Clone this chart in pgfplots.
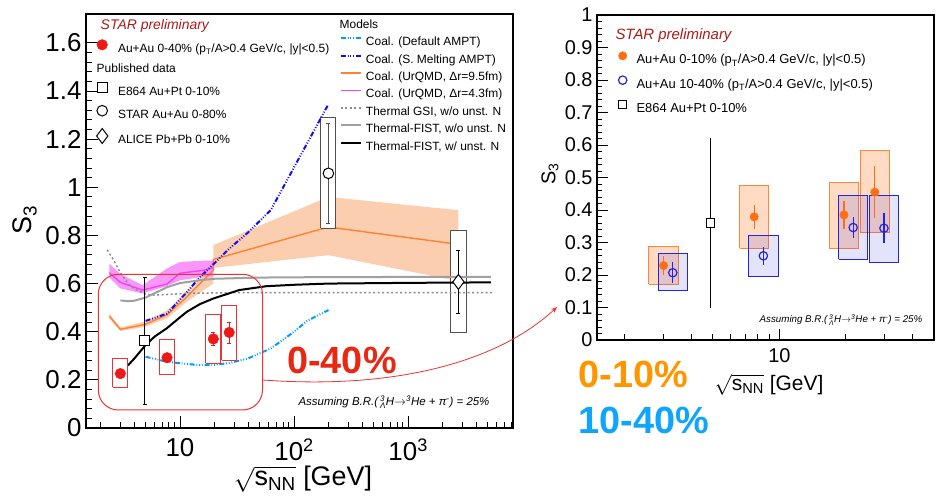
\documentclass[border=0pt]{standalone}
\usepackage{amsmath}
\usepackage{fontspec}
\setmainfont{Liberation Sans}
\usepackage{pgfplots}
\pgfplotsset{compat=1.18}
\usetikzlibrary{arrows.meta}

\definecolor{starred}{RGB}{175,25,25}
\definecolor{datared}{RGB}{238,24,24}
\definecolor{boxred}{RGB}{236,50,50}
\definecolor{bigred}{RGB}{232,40,18}
\definecolor{amptlight}{RGB}{0,155,255}
\definecolor{amptdark}{RGB}{15,15,235}
\definecolor{urqorange}{RGB}{255,130,50}
\definecolor{urqmag}{RGB}{240,70,240}
\definecolor{orband}{RGB}{252,206,176}
\definecolor{magband}{RGB}{249,150,249}
\definecolor{gsigray}{RGB}{140,140,140}
\definecolor{fistgray}{RGB}{160,160,160}
\definecolor{pubgray}{RGB}{80,80,80}
\definecolor{dorange}{RGB}{255,110,20}
\definecolor{boxorange}{RGB}{255,135,60}
\definecolor{dblue}{RGB}{35,35,225}
\definecolor{bigorange}{RGB}{255,150,0}
\definecolor{bigblue}{RGB}{15,165,250}

\tikzset{
  amptdash/.style={line width=2bp, dash pattern=on 5bp off 1.8bp on 0.9bp off 1.8bp on 0.9bp off 1.8bp on 0.9bp off 1.8bp},
  gsidot/.style={line width=1.5bp, dash pattern=on 2bp off 2.5bp},
}
\newcommand{\fs}[1]{\fontsize{#1}{#1}\selectfont}
\newcommand{\sysbox}[5][]{\addplot[forget plot,line join=miter,#1] coordinates {(#2,#4) (#3,#4) (#3,#5) (#2,#5) (#2,#4)};}

\begin{document}
\begin{tikzpicture}
\path[use as bounding box] (0,0) rectangle (942bp,496bp);

% ---------------- LEFT PANEL ----------------
\begin{axis}[
  at={(86bp,68bp)}, anchor=south west, scale only axis,
  width=427bp, height=414bp,
  xmode=log, xmin=1.5, xmax=8300, ymin=0, ymax=1.72,
  axis line style={line width=1.2bp},
  tick pos=left, tick align=inside,
  xtick={10,100,1000}, xticklabels={10,10\textsuperscript{2},10\textsuperscript{3}},
  minor xtick={2,3,4,5,6,7,8,9,20,30,40,50,60,70,80,90,200,300,400,500,600,700,800,900,2000,3000,4000,5000,6000,7000,8000},
  ytick={0,0.2,0.4,0.6,0.8,1,1.2,1.4,1.6},
  minor y tick num=4,
  major tick length=12bp, minor tick length=6bp,
  tick style={black, line width=0.9bp},
  /pgf/number format/assume math mode=true,
  tick label style={font=\fs{26}},
  xticklabel style={yshift=-7bp},
  yticklabel style={xshift=-1bp},
  legend style={at={(axis description cs:0.5948,0.9872)}, anchor=north west, draw=none, fill=none,
    inner sep=0pt, outer sep=0pt, row sep=5.4bp, column sep=4bp, font=\fs{12},
    nodes={inner sep=0pt, text height=9bp, text depth=3bp}},
  legend cell align=left,
  legend image code/.code={\draw[#1] (0bp,4.3bp) -- (20bp,4.3bp);},
]
\addlegendimage{empty legend}\addlegendentry{\hspace*{-26.3bp}Models}
\addlegendimage{amptlight, amptdash}\addlegendentry{Coal. (Default AMPT)}
\addlegendimage{amptdark, amptdash}\addlegendentry{Coal. (S. Melting AMPT)}
\addlegendimage{urqorange, line width=1.6bp}\addlegendentry{Coal. (UrQMD, Δr=9.5fm)}
\addlegendimage{urqmag, line width=1.6bp}\addlegendentry{Coal. (UrQMD, Δr=4.3fm)}
\addlegendimage{gsigray, gsidot}\addlegendentry{Thermal GSI, w/o unst. N}
\addlegendimage{fistgray, line width=2bp}\addlegendentry{Thermal-FIST, w/o unst. N}
\addlegendimage{black, line width=2bp}\addlegendentry{Thermal-FIST, w/ unst. N}

% bands
\addplot[forget plot, fill=orband, draw=none] coordinates {(19.6,0.76) (200,0.96) (2760,0.905) (2760,0.61) (200,0.718) (19.6,0.665)};
\addplot[forget plot, fill=orband, draw=none] coordinates {(2.4,0.475) (3,0.418) (4.9,0.442) (7.7,0.488) (11.5,0.568) (19.6,0.675) (19.6,0.60) (11.5,0.525) (7.7,0.455) (4.9,0.42) (3,0.403) (2.4,0.455)};
\addplot[forget plot, fill=magband, draw=none] coordinates {(2.4,0.683) (3,0.64) (4.7,0.593) (7.7,0.663) (10,0.69) (16,0.695) (19.6,0.695) (19.6,0.628) (16,0.628) (10,0.614) (7.7,0.59) (4.7,0.559) (3,0.58) (2.4,0.625)};

% UrQMD lines
\addplot[forget plot, urqorange, line width=1.4bp] coordinates {(2.4,0.465) (3,0.41) (4.9,0.43) (7.7,0.47) (11.5,0.545) (19.6,0.655) (19.6,0.70) (200,0.835) (2760,0.763)};
\addplot[forget plot, urqmag, line width=1.4bp] coordinates {(2.4,0.645) (3,0.605) (4.7,0.573) (7.7,0.598) (10,0.643) (16,0.655) (19.6,0.665)};

% published-data systematic boxes
\sysbox[draw=pubgray, fill=white, line width=1bp]{171.7}{233}{0.83}{1.29}
\sysbox[draw=pubgray, fill=white, line width=1bp]{2369}{3215}{0.395}{0.819}

% AMPT lines
\addplot[forget plot, amptlight, amptdash] coordinates {(5,0.296) (7.7,0.275) (11.5,0.266) (14.5,0.262) (19.6,0.262) (27,0.27) (39,0.288) (62.4,0.33) (100,0.40) (130,0.445) (200,0.49)};
\addplot[forget plot, amptdark, amptdash] coordinates {(5,0.445) (7.7,0.475) (11.5,0.565) (14.5,0.62) (19.6,0.68) (27,0.745) (39,0.81) (62.4,0.905) (200,1.345)};

% thermal lines
\addplot[forget plot, gsigray, gsidot] coordinates {(2.3,0.74) (2.6,0.70) (3,0.645) (3.5,0.60) (4,0.578) (5,0.556) (6,0.552) (8,0.555) (12,0.56) (30,0.562) (5600,0.562)};
\addplot[forget plot, fistgray, line width=2bp] coordinates {(3,0.53) (3.5,0.527) (4,0.529) (5,0.542) (6,0.56) (7.7,0.585) (10,0.602) (15,0.614) (20,0.62) (50,0.625) (200,0.627) (5300,0.628)};
\addplot[forget plot, black, line width=2bp] coordinates {(3.5,0.26) (4,0.29) (5,0.345) (6,0.38) (7.7,0.415) (10,0.46) (11.5,0.483) (15,0.515) (19.6,0.538) (33,0.573) (57,0.589) (100,0.595) (200,0.60) (1000,0.603) (5300,0.605)};

% STAR 0-40% systematic boxes
\sysbox[draw=boxred, line width=1bp]{2.575}{3.495}{0.17}{0.287}
\sysbox[draw=boxred, line width=1bp]{6.61}{8.97}{0.221}{0.368}
\sysbox[draw=boxred, line width=1bp]{16.82}{22.83}{0.27}{0.472}
\sysbox[draw=boxred, line width=1bp]{23.18}{31.46}{0.282}{0.51}

% published points
\addplot[forget plot, only marks, mark=square*, mark size=5bp, mark options={fill=white, draw=black, line width=1bp},
  error bars/.cd, y dir=both, y explicit, error bar style={line width=1bp, black}, error mark options={rotate=90, mark size=2bp, black}]
  coordinates {(4.9,0.362) +- (0,0.264)};
\addplot[forget plot, only marks, mark=*, mark size=5.3bp, mark options={fill=white, draw=black, line width=1bp},
  error bars/.cd, y dir=both, y explicit, error bar style={line width=1bp, pubgray}, error mark options={rotate=90, mark size=2bp, pubgray}]
  coordinates {(200,1.058) +- (0,0.207)};
\addplot[forget plot, only marks, mark=diamond*, mark size=7.5bp, mark options={fill=white, draw=black, line width=1bp},
  error bars/.cd, y dir=both, y explicit, error bar style={line width=1bp, black}, error mark options={rotate=90, mark size=2bp, black}]
  coordinates {(2760,0.607) +- (0,0.13)};

% STAR 0-40% points
\addplot[forget plot, only marks, mark=*, mark size=5.3bp, color=datared,
  error bars/.cd, y dir=both, y explicit, error bar style={line width=1bp, datared}, error mark options={rotate=90, mark size=2bp, datared}]
  coordinates {(3.0,0.226) +- (0,0.012) (7.7,0.292) +- (0,0.012) (19.6,0.37) +- (0,0.028) (27,0.397) +- (0,0.044)};
\end{axis}

% marker legend of the left panel
\begin{axis}[
  at={(86bp,68bp)}, anchor=south west, scale only axis,
  width=427bp, height=414bp,
  xmode=log, xmin=1.5, xmax=8300, ymin=0, ymax=1.72, hide axis,
  legend style={at={(axis description cs:0.0248,0.9867)}, anchor=north west, draw=none, fill=none,
    inner sep=0pt, outer sep=0pt, row sep=7bp, column sep=10.2bp, font=\fs{12},
    nodes={inner sep=0pt, text height=10bp, text depth=3bp}},
  legend cell align=left,
  legend image code/.code={\draw[#1] plot coordinates {(0bp,4.3bp)};},
]
\addlegendimage{empty legend}\addlegendentry{\hspace*{-17.3bp}{\fs{14}\itshape\color{starred}STAR preliminary}}
\addlegendimage{only marks, mark=*, mark size=5.3bp, datared}\addlegendentry{Au+Au 0-40\% (p\textsubscript{T}/A>0.4 GeV/c, |y|<0.5)}
\addlegendimage{empty legend}\addlegendentry{\hspace*{-21.3bp}Published data}
\addlegendimage{only marks, mark=square*, mark size=5bp, mark options={fill=white, draw=black, line width=1bp}}\addlegendentry{E864 Au+Pt 0-10\%}
\addlegendimage{only marks, mark=*, mark size=5.3bp, mark options={fill=white, draw=black, line width=1bp}}\addlegendentry{STAR Au+Au 0-80\%}
\addlegendimage{only marks, mark=diamond*, mark size=7.5bp, mark options={fill=white, draw=black, line width=1bp}}\addlegendentry{ALICE Pb+Pb 0-10\%}
\end{axis}

% ---------------- RIGHT PANEL ----------------
\begin{axis}[
  at={(597bp,156bp)}, anchor=south west, scale only axis,
  width=337bp, height=325bp,
  xmode=log, xmin=1.5, xmax=50, ymin=0, ymax=1,
  axis line style={line width=1.2bp},
  tick pos=left, tick align=inside,
  xtick={10}, xticklabels={10},
  minor xtick={2,3,4,5,6,7,8,9,20,30,40},
  ytick={0,0.1,0.2,0.3,0.4,0.5,0.6,0.7,0.8,0.9,1},
  minor y tick num=4,
  major tick length=11bp, minor tick length=5.5bp,
  tick style={black, line width=0.9bp},
  /pgf/number format/assume math mode=true,
  tick label style={font=\fs{20}},
  xticklabel style={yshift=-5bp},
  yticklabel style={xshift=-1bp},
  legend style={at={(axis description cs:0.0638,0.955)}, anchor=north west, draw=none, fill=none,
    inner sep=0pt, outer sep=0pt, row sep=9bp, column sep=9.6bp, font=\fs{13},
    nodes={inner sep=0pt, text height=10bp, text depth=3bp}},
  legend cell align=left,
  legend image code/.code={\draw[#1] plot coordinates {(0bp,4.65bp)};},
]
\addlegendimage{empty legend}\addlegendentry{\hspace*{-21bp}{\fs{15}\itshape\color{starred}STAR preliminary}}
\addlegendimage{only marks, mark=*, mark size=4.2bp, dorange}\addlegendentry{Au+Au 0-10\% (p\textsubscript{T}/A>0.4 GeV/c, |y|<0.5)}
\addlegendimage{only marks, mark=o, mark size=4.2bp, dblue, mark options={line width=1.2bp}}\addlegendentry{Au+Au 10-40\% (p\textsubscript{T}/A>0.4 GeV/c, |y|<0.5)}
\addlegendimage{only marks, mark=square*, mark size=4.2bp, mark options={fill=white, draw=black, line width=1bp}}\addlegendentry{E864 Au+Pt 0-10\%}

% 0-10% boxes
\sysbox[draw=boxorange, fill=dorange, fill opacity=0.25, line width=1bp]{2.575}{3.495}{0.171}{0.287}
\sysbox[draw=boxorange, fill=dorange, fill opacity=0.25, line width=1bp]{6.61}{8.97}{0.282}{0.476}
\sysbox[draw=boxorange, fill=dorange, fill opacity=0.25, line width=1bp]{16.82}{22.83}{0.282}{0.486}
\sysbox[draw=boxorange, fill=dorange, fill opacity=0.25, line width=1bp]{23.18}{31.46}{0.330}{0.582}
% 10-40% boxes
\sysbox[draw=dblue, fill=dblue, fill opacity=0.13, line width=1bp]{2.833}{3.845}{0.151}{0.265}
\sysbox[draw=dblue, fill=dblue, fill opacity=0.13, line width=1bp]{7.27}{9.87}{0.195}{0.323}
\sysbox[draw=dblue, fill=dblue, fill opacity=0.13, line width=1bp]{18.51}{25.12}{0.248}{0.446}
\sysbox[draw=dblue, fill=dblue, fill opacity=0.13, line width=1bp]{25.49}{34.6}{0.239}{0.446}

% E864
\addplot[forget plot, only marks, mark=square*, mark size=4.2bp, mark options={fill=white, draw=black, line width=1bp},
  error bars/.cd, y dir=both, y explicit, error bar style={line width=1bp, black}, error mark=none]
  coordinates {(4.9,0.36) +- (0,0.262)};
% 0-10%
\addplot[forget plot, only marks, mark=*, mark size=4.2bp, color=dorange,
  error bars/.cd, y dir=both, y explicit, error bar style={line width=1.2bp, dorange}, error mark=none]
  coordinates {(3,0.229) +- (0,0.030) (7.7,0.379) +- (0,0.037) (19.6,0.385) +- (0,0.042) (27,0.455) +- (0,0.080)};
% 10-40%
\addplot[forget plot, only marks, mark=o, mark size=4.2bp, color=dblue, mark options={line width=1.2bp},
  error bars/.cd, y dir=both, y explicit, error bar style={line width=1.2bp, dblue}, error mark=none]
  coordinates {(3.3,0.207) +- (0,0.033) (8.47,0.259) +- (0,0.027) (21.56,0.346) +- (0,0.033) (29.7,0.344) +- (0,0.046)};
\end{axis}

% ---------------- annotations ----------------
\draw[boxred, line width=1bp, rounded corners=20bp] (98.3bp,221.7bp) rectangle (262.5bp,86bp);
\draw[boxred, line width=0.8bp, -{Stealth[open, length=6bp, width=5bp]}] (263bp,116bp) .. controls (400bp,106bp) and (500bp,136bp) .. (557bp,189bp);
\node[text=bigred, font=\fs{38}\bfseries] at (342bp,136bp) {0-40\%};
\node[anchor=west, text=bigorange, font=\fs{38}\bfseries] at (575bp,121.5bp) {0-10\%};
\node[anchor=west, text=bigblue, font=\fs{38}\bfseries] at (575bp,76bp) {10-40\%};
\node[font=\fs{11.5}\itshape] at (394bp,94bp) {Assuming B.R.(\,$^{\text{3}}_{\text{Λ}}$H$\rightarrow^{\text{3}}$He + π$^{\text{-}}$) = 25\%};
\node[font=\fs{9.8}\itshape] at (841bp,176bp) {Assuming B.R.(\,$^{\text{3}}_{\text{Λ}}$H$\rightarrow^{\text{3}}$He + π$^{\text{-}}$) = 25\%};
\node[font=\fs{27}] at (303bp,17bp) {$\sqrt{\text{s}_{\text{NN}}}$ [GeV]};
\node[font=\fs{21}] at (769bp,111bp) {$\sqrt{\text{s}_{\text{NN}}}$ [GeV]};
\node[font=\fs{27}, rotate=90] at (25bp,276bp) {S\textsubscript{3}};
\node[font=\fs{20}, rotate=90] at (550bp,322bp) {S\textsubscript{3}};
\end{tikzpicture}
\end{document}
